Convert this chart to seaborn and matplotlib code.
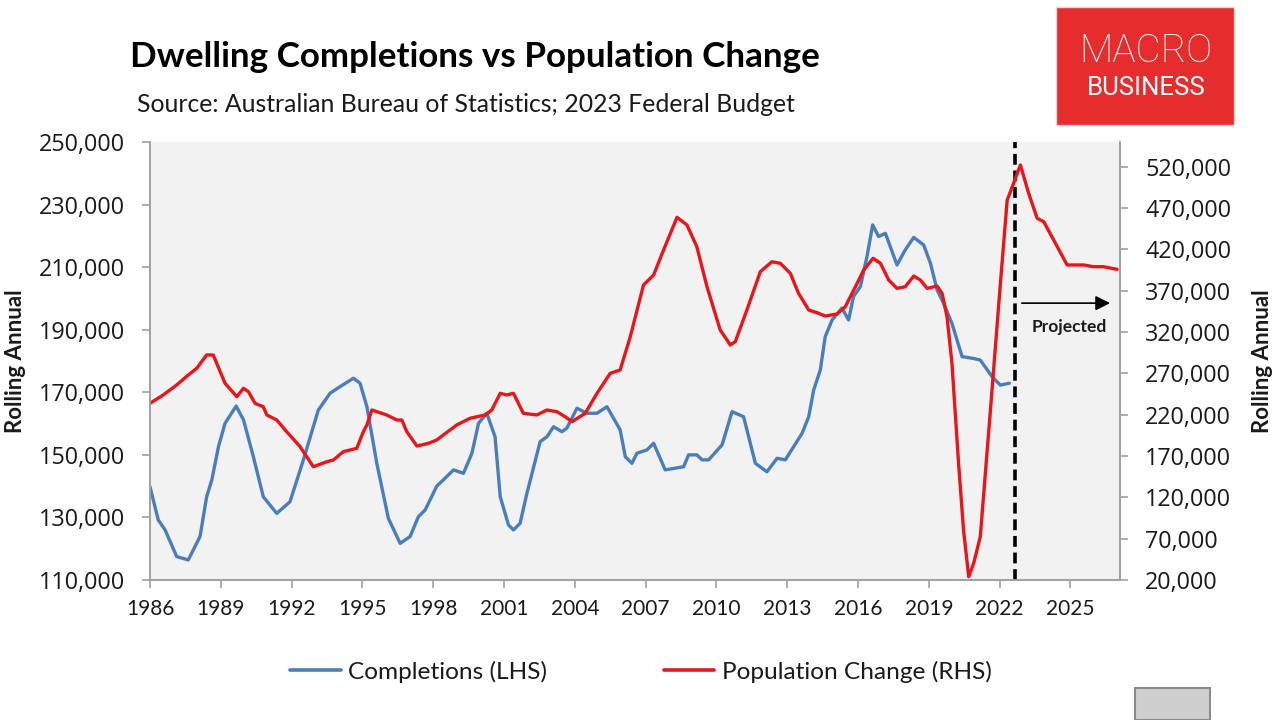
import numpy as np
import pandas as pd
import matplotlib
matplotlib.use("Agg")
import matplotlib.pyplot as plt
from matplotlib.patches import Rectangle
from matplotlib.lines import Line2D
import seaborn as sns

# ---------------- data ----------------
comp_years = [1986.00, 1986.35, 1986.64, 1987.13, 1987.62, 1988.12, 1988.40, 1988.62, 1988.90,
              1989.18, 1989.65, 1989.96, 1990.38, 1990.80, 1991.37, 1991.93, 1992.50, 1993.13,
              1993.63, 1994.05, 1994.62, 1994.90, 1995.19, 1995.61, 1996.10, 1996.60, 1997.02,
              1997.37, 1997.66, 1998.15, 1998.43, 1998.86, 1999.28, 1999.64, 1999.92, 2000.27,
              2000.62, 2000.84, 2001.19, 2001.40, 2001.68, 2001.97, 2002.53, 2002.82, 2003.10,
              2003.45, 2003.66, 2004.09, 2004.51, 2004.94, 2005.36, 2005.92, 2006.14, 2006.42,
              2006.63, 2007.06, 2007.34, 2007.83, 2008.61, 2008.82, 2009.17, 2009.39, 2009.67,
              2010.24, 2010.66, 2011.15, 2011.65, 2012.14, 2012.57, 2012.92, 2013.27, 2013.63,
              2013.91, 2014.12, 2014.40, 2014.61, 2014.90, 2015.32, 2015.60, 2015.81, 2016.10,
              2016.38, 2016.62, 2016.87, 2017.16, 2017.65, 2018.00, 2018.36, 2018.78, 2019.07,
              2019.35, 2019.63, 2019.98, 2020.41, 2020.90, 2021.18, 2021.68, 2022.03, 2022.41]
completions = [139800, 129200, 126000, 117500, 116400, 123900, 136600, 142000, 152600,
               160100, 165600, 161200, 149400, 136600, 131300, 135000, 148400, 164300,
               169700, 171800, 174500, 172900, 165400, 147300, 129700, 121700, 123900,
               130200, 132400, 140000, 142000, 145200, 144100, 150500, 160100, 163300,
               155800, 136600, 127600, 126000, 128100, 137700, 154200, 155800, 159000,
               157400, 158500, 164900, 163300, 163300, 165400, 158000, 149400, 147300,
               150500, 151600, 153700, 145200, 146200, 150000, 150000, 148400, 148400,
               153200, 163800, 162200, 147300, 144600, 148900, 148400, 152600, 156900,
               162200, 170700, 177100, 187800, 193100, 196900, 193100, 200600, 203800,
               213400, 223500, 219800, 220800, 210700, 215500, 219500, 217100, 211200,
               202700, 198400, 192000, 181400, 180800, 180300, 175000, 172300, 172900]

pop_years = [1986.00, 1986.56, 1987.13, 1987.62, 1987.98, 1988.40, 1988.68, 1989.18, 1989.68,
             1989.96, 1990.17, 1990.45, 1990.80, 1990.95, 1991.37, 1991.79, 1992.36, 1992.92,
             1993.49, 1993.77, 1994.19, 1994.76, 1995.04, 1995.19, 1995.40, 1996.03, 1996.46,
             1996.67, 1996.88, 1997.31, 1997.80, 1998.15, 1998.43, 1999.00, 1999.56, 2000.20,
             2000.48, 2000.84, 2001.12, 2001.40, 2001.82, 2002.39, 2002.82, 2003.24, 2003.59,
             2003.88, 2004.44, 2004.94, 2005.50, 2005.92, 2006.35, 2006.91, 2007.34, 2007.76,
             2008.33, 2008.75, 2009.17, 2009.60, 2010.16, 2010.59, 2010.80, 2011.29, 2011.86,
             2012.35, 2012.71, 2013.13, 2013.48, 2013.91, 2014.26, 2014.61, 2015.11, 2015.46,
             2015.89, 2016.24, 2016.64, 2016.95, 2017.30, 2017.65, 2018.00, 2018.36, 2018.64,
             2018.93, 2019.35, 2019.56, 2019.77, 2019.98, 2020.26, 2020.47, 2020.69, 2020.90,
             2021.18, 2021.61, 2022.03, 2022.32, 2022.46, 2022.88, 2023.23, 2023.59, 2023.87,
             2024.29, 2024.86, 2025.56, 2025.97, 2026.40, 2026.98]
population = [233800, 243900, 256000, 268000, 276200, 292300, 292300, 258000, 241800,
              252000, 247900, 233800, 229700, 219700, 213600, 199500, 181300, 157100,
              163100, 165200, 175300, 179300, 199500, 207600, 225700, 219700, 213600,
              213600, 199500, 182100, 185400, 189400, 195500, 207600, 215700, 219700,
              225700, 245900, 243900, 245900, 221700, 219700, 225700, 223700, 217600,
              211600, 221700, 245900, 270100, 274100, 314400, 377000, 389100, 419300,
              458900, 449600, 423300, 374900, 322500, 304400, 308400, 346700, 393100,
              405100, 403200, 391100, 366900, 346700, 343500, 339400, 341900, 350700,
              374900, 395100, 409300, 403200, 383000, 372900, 374900, 387800, 383000,
              372900, 375700, 366900, 338600, 282200, 161200, 80500, 24000, 40200,
              72400, 225700, 378000, 479800, 490000, 522200, 487900, 457700, 453600,
              431400, 401200, 401200, 399100, 399100, 395900]

year_ticks = list(range(1986, 2026, 3))
left_ticks = list(range(110000, 250001, 20000))
right_ticks = list(range(20000, 520001, 50000))
projection_start = 2022.67

title = "Dwelling Completions vs Population Change"
subtitle = "Source: Australian Bureau of Statistics; 2023 Federal Budget"
series_names = ["Completions (LHS)", "Population Change (RHS)"]

# ---------------- style ----------------
sns.set_theme(style="white")
plt.rcParams["font.family"] = ["Lato", "DejaVu Sans"]

BLUE = "#4A7EBB"
RED = "#E8161B"
AXIS = "#A0A0A0"
TXT = "#1A1A1A"

fig = plt.figure(figsize=(12.8, 7.2), dpi=100)
ax = fig.add_axes([150 / 1280, 1 - 580 / 720, 970 / 1280, 438 / 720])
ax.set_facecolor("#F2F2F2")
ax2 = ax.twinx()

df_c = pd.DataFrame({"year": comp_years, "value": completions})
df_p = pd.DataFrame({"year": pop_years, "value": population})

sns.lineplot(data=df_c, x="year", y="value", ax=ax, color=BLUE, linewidth=2.4,
             legend=False, sort=False)
sns.lineplot(data=df_p, x="year", y="value", ax=ax2, color=RED, linewidth=2.4,
             legend=False, sort=False)

ax.set_xlim(1986, 2027.1)
ax.set_ylim(110000, 250000)
ax2.set_ylim(20000, 550000)

ax.set_xticks(year_ticks)
ax.set_xticklabels([str(y) for y in year_ticks], fontsize=15, color=TXT)
ax.set_yticks(left_ticks)
ax.set_yticklabels([f"{v:,}" for v in left_ticks], fontsize=16.8, color=TXT,
                   family=["Open Sans", "DejaVu Sans"])
ax2.set_yticks(right_ticks)
ax2.set_yticklabels([f"{v:,}" for v in right_ticks], fontsize=16.8, color=TXT,
                    family=["Open Sans", "DejaVu Sans"])

for a in (ax, ax2):
    for s in a.spines.values():
        s.set_color(AXIS)
        s.set_linewidth(1.2)
    a.spines["top"].set_visible(False)
    a.grid(False)
ax.tick_params(axis="x", direction="out", length=6, width=1.2, color=AXIS, pad=8, bottom=True)
ax.tick_params(axis="y", direction="out", length=6, width=1.2, color=AXIS, pad=12, left=True)
ax2.tick_params(axis="y", direction="out", length=6, width=1.2, color=AXIS, pad=12, right=True)

ax.set_xlabel("")
ax.set_ylabel("Rolling Annual", fontsize=16, fontweight="bold", color=TXT, va="center")
ax.yaxis.set_label_coords(-0.139, 0.5)
ax2.set_ylabel("Rolling Annual", fontsize=16, fontweight="bold", color=TXT, va="center",
               rotation=90)
ax2.yaxis.set_label_coords(1.1464, 0.5)

# projection marker
ax.axvline(projection_start, color="black", linestyle=(0, (3, 1.6)), linewidth=2.6)
ax.annotate("", xy=(2026.8, 198500), xytext=(projection_start + 0.15, 198500),
            arrowprops=dict(arrowstyle="-|>", color="black", lw=1.2, mutation_scale=22))
ax.text(2024.95, 191000, "Projected", ha="center", va="center", fontsize=12.5,
        fontweight="bold", color=TXT)

# titles
fig.text(130 / 1280, 1 - 57 / 720, title, fontsize=25.2, fontweight="bold", color="black",
         ha="left", va="center")
fig.text(137 / 1280, 1 - 105 / 720, subtitle, fontsize=17.8, color=TXT, ha="left", va="center")

# legend
handles = [Line2D([0], [0], color=BLUE, lw=2.6), Line2D([0], [0], color=RED, lw=2.6)]
fig.legend(handles, series_names, loc="center", bbox_to_anchor=(641 / 1280, 1 - 672 / 720),
           ncol=2, frameon=False, fontsize=17.6, handlelength=2.05, handletextpad=0.3,
           columnspacing=4.8, labelcolor=TXT)

# logo
fig.patches.append(Rectangle((1056 / 1280, 1 - 125 / 720), 178 / 1280, 118 / 720,
                             transform=fig.transFigure, facecolor="#E52D2D",
                             edgecolor="#D8D8D8", linewidth=1.0))
fig.text(1146 / 1280, 1 - 51 / 720, "MACRO", fontsize=28, color="white", ha="center",
         va="center", family=["Roboto", "DejaVu Sans"], fontweight="light")
fig.text(1146 / 1280, 1 - 88 / 720, "BUSINESS", fontsize=18.5, color="white", ha="center",
         va="center", family=["Roboto", "DejaVu Sans"])

# small wolf badge (bottom right)
fig.patches.append(Rectangle((1135 / 1280, 0), 75 / 1280, 32 / 720,
                             transform=fig.transFigure, facecolor="#CFCFCF",
                             edgecolor="#8A8A8A", linewidth=1.5))

fig.savefig("out.png", dpi=100)
